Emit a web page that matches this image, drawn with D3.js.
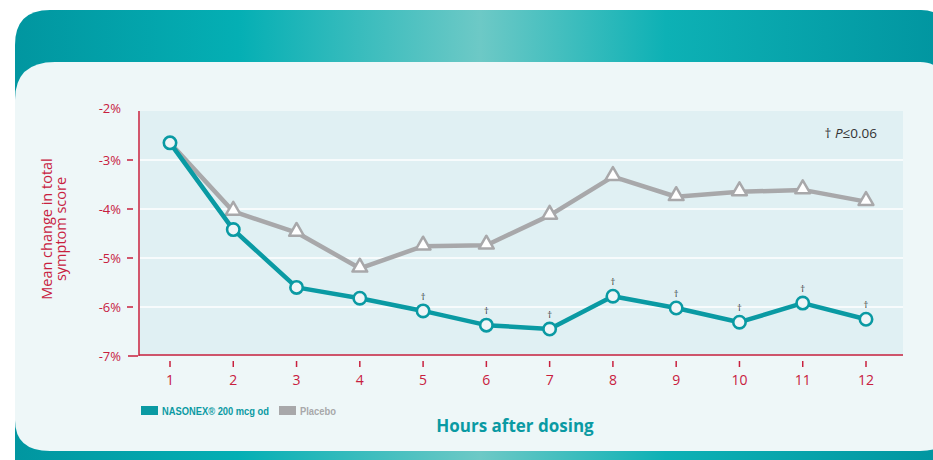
<!DOCTYPE html>
<html lang="en">
<head>
<meta charset="UTF-8">
<title>Mean change in total symptom score</title>
<script src="https://d3js.org/d3.v7.min.js"></script>
<style>
    body { margin: 0; background: #ffffff; }
    svg { display: block; font-family: 'Open Sans', 'DejaVu Sans', Arial, sans-serif; }
    .tick-label { fill: #c8203e; font-size: 13px; }
    .narrow { font-family: 'Liberation Sans', Arial, sans-serif; font-weight: bold; font-size: 11px; }
</style>
</head>
<body>
<div id="chart"></div>
<script>
    // Data
    const hours = [1, 2, 3, 4, 5, 6, 7, 8, 9, 10, 11, 12];
    const nasonex = [-2.65, -4.42, -5.6, -5.82, -6.08, -6.37, -6.45, -5.78, -6.02, -6.31, -5.92, -6.25];
    const placebo = [-2.65, -4.05, -4.48, -5.21, -4.76, -4.74, -4.13, -3.34, -3.75, -3.65, -3.61, -3.85];
    const significant = [false, false, false, false, true, true, true, true, true, true, true, true];
    const yTicks = [-2, -3, -4, -5, -6, -7];
    const seriesNames = ["NASONEX\u00AE 200 mcg od", "Placebo"];

    const W = 933, H = 460;
    const red = "#c8203e", teal = "#0a9aa3", grey = "#a8a8aa";

    const svg = d3.select("#chart").append("svg")
        .attr("width", W).attr("height", H);

    // Card background with teal gradient header
    const grad = svg.append("defs").append("linearGradient")
        .attr("id", "hdr").attr("x1", "0%").attr("x2", "100%");
    [[0, "#0196a0"], [0.24, "#04afb4"], [0.5, "#6dc9c6"], [0.7, "#0db1b5"], [1, "#0195a0"]]
        .forEach(([o, c]) => grad.append("stop").attr("offset", o).attr("stop-color", c));

    svg.append("path")
        .attr("d", "M15,45 Q15,10 50,10 L921,10 Q945,10 945,34 L945,470 L15,470 Z")
        .attr("fill", "url(#hdr)");
    svg.append("path")
        .attr("d", "M15,100 Q15,62 55,62 L920,62 Q945,62 945,90 L945,436 Q945,451 920,451 L50,451 Q15,451 15,420 Z")
        .attr("fill", "#eef7f8");

    // Scales
    const x = d3.scaleLinear().domain([1, 12]).range([170, 866]);
    const y = d3.scaleLinear().domain([-7, -2]).range([356, 111]);

    const plotL = 140, plotR = 903;

    svg.append("rect")
        .attr("x", plotL).attr("y", y(-2))
        .attr("width", plotR - plotL).attr("height", y(-7) - y(-2))
        .attr("fill", "#e0f0f3");

    // Grid lines
    svg.append("g").selectAll("line")
        .data(yTicks.filter(d => d > -7 && d < -2))
        .join("line")
        .attr("x1", plotL).attr("x2", plotR)
        .attr("y1", d => y(d)).attr("y2", d => y(d))
        .attr("stroke", "#ffffff").attr("stroke-width", 1.5);

    // Axes lines
    svg.append("line")
        .attr("x1", 139).attr("x2", 139).attr("y1", y(-2)).attr("y2", y(-7))
        .attr("stroke", red).attr("stroke-width", 1.5);
    svg.append("line")
        .attr("x1", 139).attr("x2", plotR).attr("y1", y(-7) - 1).attr("y2", y(-7) - 1)
        .attr("stroke", red).attr("stroke-width", 1.5);

    // Y ticks and labels
    const yt = svg.append("g");
    yt.selectAll("line")
        .data(yTicks.filter(d => d < -2))
        .join("line")
        .attr("x1", d => d === -7 ? 128 : 127).attr("x2", d => d === -7 ? 138 : 133)
        .attr("y1", d => y(d)).attr("y2", d => y(d))
        .attr("stroke", red).attr("stroke-width", 1.5);
    yt.selectAll("text")
        .data(yTicks)
        .join("text")
        .attr("class", "tick-label")
        .attr("x", 121)
        .attr("y", d => d === -2 ? y(d) - 3 : y(d))
        .attr("dy", "0.35em")
        .attr("text-anchor", "end")
        .text(d => d + "%");

    // X ticks and labels
    const xt = svg.append("g");
    xt.selectAll("line")
        .data(hours)
        .join("line")
        .attr("x1", d => x(d)).attr("x2", d => x(d))
        .attr("y1", 361).attr("y2", 367)
        .attr("stroke", red).attr("stroke-width", 1.5);
    xt.selectAll("text")
        .data(hours)
        .join("text")
        .attr("class", "tick-label")
        .attr("x", d => x(d)).attr("y", 385)
        .attr("text-anchor", "middle")
        .style("font-size", "14px")
        .text(d => d);

    // Y axis title
    svg.append("text")
        .attr("transform", "translate(52,229) rotate(-90)")
        .attr("text-anchor", "middle")
        .attr("fill", red)
        .style("font-size", "14.5px")
        .selectAll("tspan")
        .data(["Mean change in total", "symptom score"])
        .join("tspan")
        .attr("x", 0).attr("dy", (d, i) => i === 0 ? "0em" : "0.95em")
        .text(d => d);

    // X axis title
    svg.append("text")
        .attr("x", 515).attr("y", 432)
        .attr("text-anchor", "middle")
        .attr("fill", teal)
        .style("font-size", "17px").style("font-weight", "bold")
        .text("Hours after dosing");

    // Lines
    const line = d3.line().x((d, i) => x(hours[i])).y(d => y(d));

    svg.append("path").datum(placebo)
        .attr("d", line).attr("fill", "none")
        .attr("stroke", grey).attr("stroke-width", 4.5).attr("stroke-linejoin", "round");

    const tri = d3.symbol().type(d3.symbolTriangle).size(95);
    svg.append("g").selectAll("path")
        .data(placebo.slice(1))
        .join("path")
        .attr("d", tri)
        .attr("transform", (d, i) => `translate(${x(hours[i + 1])},${y(d) - 1})`)
        .attr("fill", "#ffffff").attr("stroke", grey).attr("stroke-width", 2.5)
        .attr("stroke-linejoin", "round");

    svg.append("path").datum(nasonex)
        .attr("d", line).attr("fill", "none")
        .attr("stroke", teal).attr("stroke-width", 4.5).attr("stroke-linejoin", "round");

    svg.append("g").selectAll("circle")
        .data(nasonex)
        .join("circle")
        .attr("cx", (d, i) => x(hours[i])).attr("cy", d => y(d))
        .attr("r", 6.2)
        .attr("fill", "#eff5f7").attr("stroke", teal).attr("stroke-width", 2.6);

    // Significance daggers
    svg.append("g").selectAll("text")
        .data(nasonex.map((v, i) => ({ v, i })).filter(d => significant[d.i]))
        .join("text")
        .attr("x", d => x(hours[d.i])).attr("y", d => y(d.v) - 11)
        .attr("text-anchor", "middle")
        .attr("fill", "#333")
        .style("font-size", "9.5px")
        .text("\u2020");

    svg.append("text")
        .attr("x", 877).attr("y", 138)
        .attr("text-anchor", "end")
        .attr("fill", "#333")
        .style("font-size", "13.5px")
        .html("\u2020 <tspan font-style='italic'>P</tspan>\u22640.06");

    // Legend
    const legend = svg.append("g").attr("transform", "translate(141,406)");
    const legendColors = [teal, grey];
    const legendX = [0, 138];
    const legendLen = [107, 36];
    seriesNames.forEach((name, i) => {
        legend.append("rect")
            .attr("x", legendX[i]).attr("y", 0)
            .attr("width", 17).attr("height", 9)
            .attr("fill", legendColors[i]);
        legend.append("text")
            .attr("class", "narrow")
            .attr("x", legendX[i] + 21).attr("y", 9)
            .attr("fill", legendColors[i])
            .attr("textLength", legendLen[i])
            .attr("lengthAdjust", "spacingAndGlyphs")
            .text(name);
    });
</script>
</body>
</html>
